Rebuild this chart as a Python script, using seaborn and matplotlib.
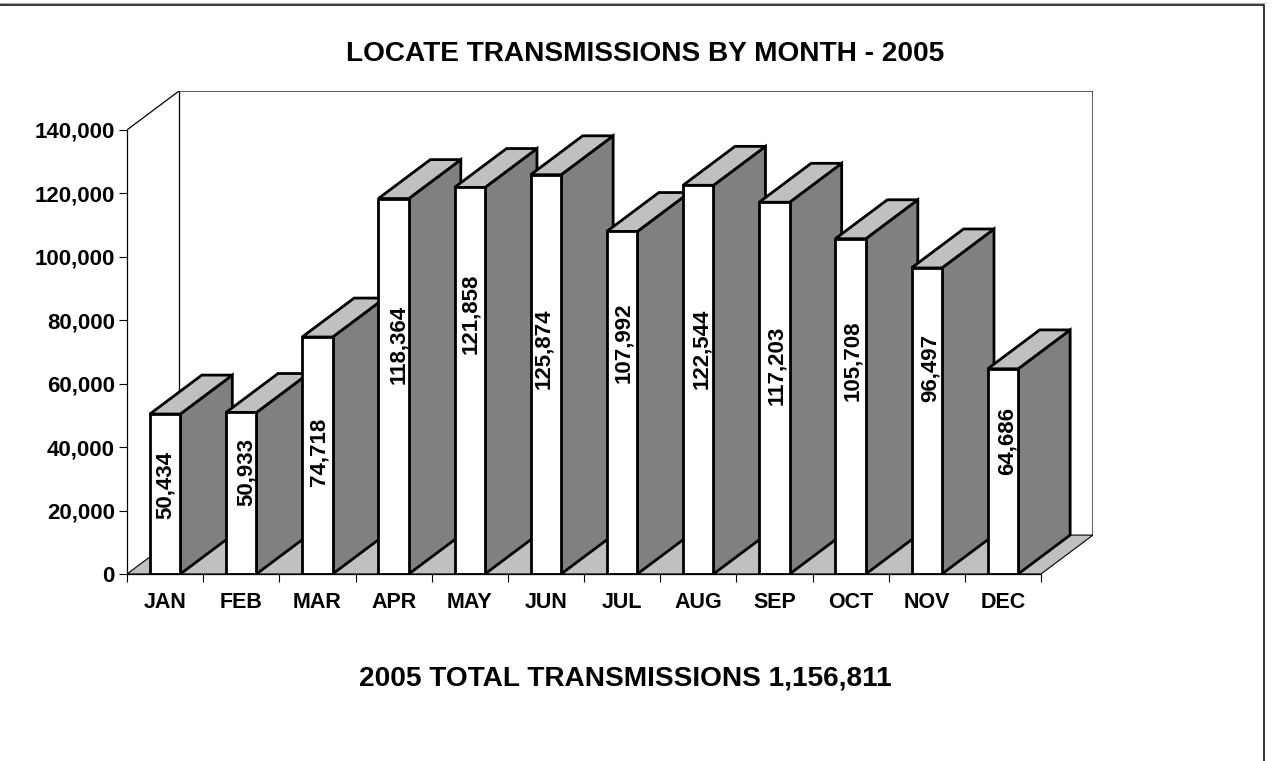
import matplotlib
matplotlib.use('Agg')
import matplotlib.pyplot as plt
from matplotlib.lines import Line2D
from matplotlib.patches import Polygon
import pandas as pd
import seaborn as sns

months = ['JAN', 'FEB', 'MAR', 'APR', 'MAY', 'JUN', 'JUL', 'AUG', 'SEP', 'OCT', 'NOV', 'DEC']
transmissions = [50434, 50933, 74718, 118364, 121858, 125874, 107992, 122544, 117203, 105708, 96497, 64686]
yticks = [0, 20000, 40000, 60000, 80000, 100000, 120000, 140000]

# where each rotated label sits in the picture (pixels)
label_y_px = [485, 472, 452, 344, 313, 348, 342, 348, 365, 360, 368, 441]
label_x_shift = [0, 5, 2, 5, 1, -2, 2, 3, 2, 2, 3, 4]

W, H = 1273, 761
left, right, top, bottom = 127, 1093, 91, 574
depth_x_px, depth_y_px = 52, 39
y_max = 140000
px_per_value = 445 / y_max
px_per_cat = (right - depth_x_px - left) / 12
depth_x = depth_x_px / px_per_cat
depth_y = depth_y_px / px_per_value

sns.set_style('white')
plt.rcParams['font.family'] = ['Liberation Sans', 'DejaVu Sans']
plt.rcParams['font.weight'] = 'bold'
plt.rcParams['text.color'] = 'black'
plt.rcParams['xtick.color'] = 'black'
plt.rcParams['ytick.color'] = 'black'

df = pd.DataFrame({'month': months, 'count': transmissions})

fig = plt.figure(figsize=(W / 100, H / 100), dpi=100, facecolor='white')
ax = fig.add_axes([left / W, 1 - bottom / H, (right - left) / W, (bottom - top) / H])
ax.patch.set_visible(False)

sns.barplot(data=df, x='month', y='count', color='white', saturation=1, width=0.40,
            edgecolor='black', linewidth=2.0, ax=ax)

# floor and back wall
x0, x1 = -0.5, 11.5
ax.add_patch(Polygon([(x0, 0), (x1, 0), (x1 + depth_x, depth_y), (x0 + depth_x, depth_y)],
                     facecolor='#C0C0C0', edgecolor='black', linewidth=0.8, zorder=1))
ax.plot([x0, x0 + depth_x, x1 + depth_x, x1 + depth_x],
        [y_max, y_max + depth_y, y_max + depth_y, depth_y], color='black', lw=0.9, zorder=1)
ax.plot([x0 + depth_x, x0 + depth_x], [depth_y, y_max + depth_y], color='black', lw=0.9, zorder=1)

# sides and tops of the bars, so the later bars cover the earlier ones
for i, bar in enumerate(ax.patches[:12]):
    if not hasattr(bar, 'get_width'):
        continue
    a = bar.get_x()
    b = a + bar.get_width()
    h = bar.get_height()
    z = 3 + i
    bar.set_zorder(z + 0.5)
    ax.add_patch(Polygon([(b, 0), (b + depth_x, depth_y), (b + depth_x, h + depth_y), (b, h)],
                         facecolor='#808080', edgecolor='black', linewidth=2.0, joinstyle='miter', zorder=z))
    ax.add_patch(Polygon([(a, h), (a + depth_x, h + depth_y), (b + depth_x, h + depth_y), (b, h)],
                         facecolor='#C0C0C0', edgecolor='black', linewidth=2.0, joinstyle='miter', zorder=z))

for i, v in enumerate(transmissions):
    ax.annotate(f'{v:,}', xy=(i, (bottom - label_y_px[i]) / px_per_value),
                xytext=(label_x_shift[i] * 0.72, 0), textcoords='offset points',
                rotation=90, ha='center', va='center', fontsize=16, fontweight='bold',
                color='black', zorder=30)

ax.set_xlim(x0, x1 + depth_x)
ax.set_ylim(0, y_max + depth_y)
ax.set_xlabel('')
ax.set_ylabel('')

for name in ['top', 'right']:
    ax.spines[name].set_visible(False)
ax.spines['left'].set_bounds(0, y_max)
ax.spines['bottom'].set_bounds(x0, x1)
for name in ['left', 'bottom']:
    ax.spines[name].set_linewidth(0.9)
    ax.spines[name].set_color('black')
    ax.spines[name].set_zorder(40)

ax.set_yticks(yticks)
ax.set_yticklabels([f'{t:,}' for t in yticks], fontsize=16, fontweight='bold')
ax.tick_params(axis='y', left=True, length=5.8, width=0.8, pad=3, color='black')
ax.set_xticks(range(12))
ax.set_xticklabels(months, fontsize=15.5, fontweight='bold')
ax.set_xticks([x0 + k for k in range(13)], minor=True)
ax.tick_params(axis='x', which='major', bottom=False, length=0, pad=13)
ax.tick_params(axis='x', which='minor', bottom=True, length=5.8, width=0.8, color='black')

fig.text(645 / W, 1 - 54 / H, 'LOCATE TRANSMISSIONS BY MONTH - 2005', ha='center', va='center',
         fontsize=20.2, fontweight='bold')
fig.text(625 / W, 1 - 678 / H, '2005 TOTAL TRANSMISSIONS 1,156,811', ha='center', va='center',
         fontsize=20.2, fontweight='bold')

# page frame, only top and right show in the crop
fig.add_artist(Line2D([0, 1263.5 / W, 1263.5 / W], [1 - 4.5 / H, 1 - 4.5 / H, 0], color='#111111', lw=1.2))
fig.add_artist(Line2D([0, 1265 / W], [1 - 3.2 / H, 1 - 3.2 / H], color='#AAAAAA', lw=0.8))

fig.savefig('out.png', dpi=100)
